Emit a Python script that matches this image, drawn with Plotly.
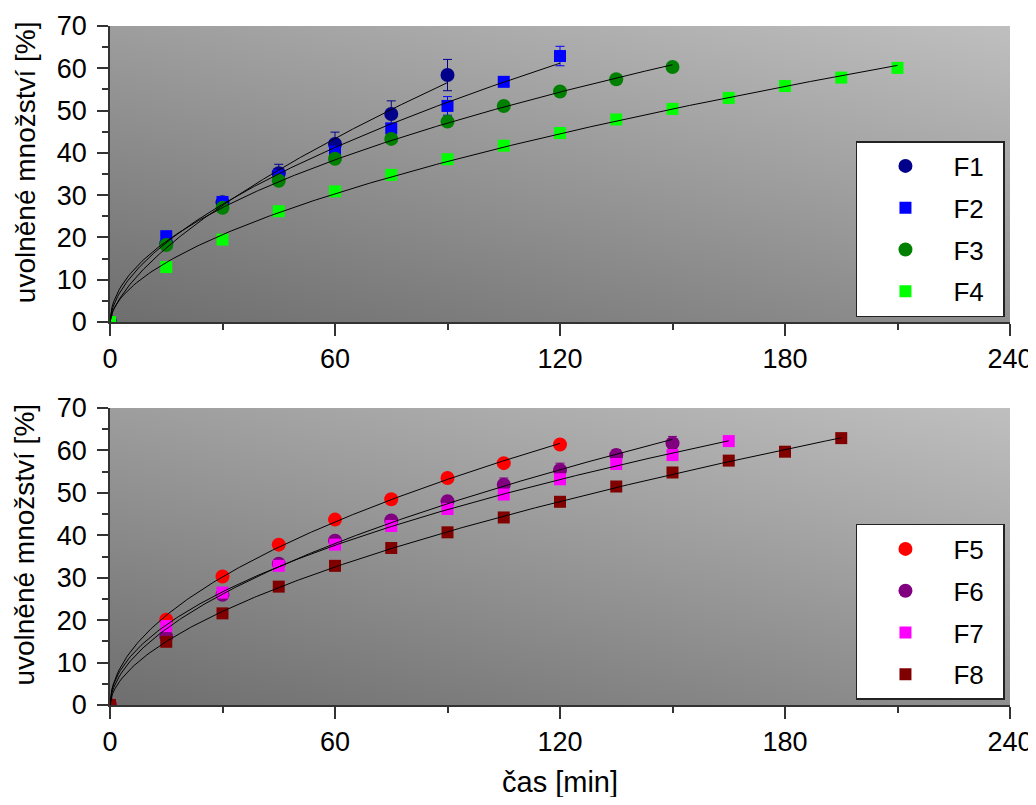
import base64
import numpy as np
import plotly.graph_objects as go

# ---------------- data ----------------
time_min = [0, 15, 30, 45, 60, 75, 90, 105, 120, 135, 150, 165, 180, 195, 210]

F1 = [0, 18.5, 28.3, 35.2, 42.1, 49.2, 58.4]
F1_err = [0, 0.6, 0.8, 2.1, 2.8, 3.1, 3.7]
F2 = [0, 20.3, 28.4, 34.6, 40.3, 45.8, 51.1, 56.8, 62.9]
F2_err = [0, 0.5, 0.5, 0.8, 1.0, 1.0, 2.2, 0.6, 2.3]
F3 = [0, 18.2, 27.0, 33.4, 38.6, 43.3, 47.4, 51.1, 54.5, 57.4, 60.3]
F3_err = [0, 0.4, 0.4, 0.5, 0.5, 0.5, 0.5, 0.5, 0.5, 0.5, 0.5]
F4 = [0, 13.0, 19.5, 26.2, 30.9, 34.8, 38.5, 41.7, 44.7, 47.9, 50.4, 53.0, 55.8, 57.8, 60.1]
F4_err = [0, 0.4, 0.4, 0.4, 0.4, 0.4, 0.4, 0.4, 0.4, 0.4, 0.4, 0.4, 0.4, 0.4, 0.4]

F5 = [0, 20.1, 30.3, 37.8, 43.7, 48.5, 53.5, 57.0, 61.4]
F5_err = [0, 0.4, 0.5, 0.5, 0.5, 0.5, 0.5, 0.5, 0.5]
F6 = [0, 16.1, 26.0, 33.3, 38.7, 43.5, 48.0, 51.9, 55.4, 58.9, 61.7]
F6_err = [0, 0.5, 0.6, 0.6, 0.7, 0.9, 1.2, 1.6, 1.6, 1.3, 1.6]
F7 = [0, 18.6, 26.5, 32.8, 37.8, 42.2, 46.2, 49.6, 53.2, 56.8, 58.9, 62.2]
F7_err = [0, 0.4, 0.4, 0.5, 0.5, 0.5, 0.5, 0.5, 0.5, 0.5, 0.5, 0.5]
F8 = [0, 14.9, 21.6, 27.9, 32.8, 37.0, 40.7, 44.2, 47.9, 51.5, 54.8, 57.6, 59.7, 62.9]
F8_err = [0, 0.4, 0.4, 0.4, 0.4, 0.4, 0.4, 0.4, 0.4, 0.4, 0.4, 0.4, 0.4, 0.4]

x_ticks = [0, 60, 120, 180, 240]
y_ticks = [0, 10, 20, 30, 40, 50, 60, 70]
y_title = "uvolněné množství [%]"
x_title = "čas [min]"

top_series = [
    ("F1", F1, F1_err, "#00008B", "circle"),
    ("F2", F2, F2_err, "#0000FF", "square"),
    ("F3", F3, F3_err, "#008000", "circle"),
    ("F4", F4, F4_err, "#00FF00", "square"),
]
bottom_series = [
    ("F5", F5, F5_err, "#FF0000", "circle"),
    ("F6", F6, F6_err, "#800080", "circle"),
    ("F7", F7, F7_err, "#FF00FF", "square"),
    ("F8", F8, F8_err, "#800000", "square"),
]

FONT = "Liberation Sans, Arial, sans-serif"
AX = "#333333"
PAD = "\u00a0\u00a0"  # right padding inside the legend box

fig = go.Figure()


def power_fit(t, y):
    """Least-squares fit of y = k * t**n (n scanned, k solved in closed form)."""
    t = np.asarray(t, float)
    y = np.asarray(y, float)
    best = None
    for n in np.linspace(0.2, 1.2, 2001):
        tn = t ** n
        k = (y * tn).sum() / (tn * tn).sum()
        sse = ((y - k * tn) ** 2).sum()
        if best is None or sse < best[0]:
            best = (sse, k, n)
    return best[1], best[2]


def add_group(series, xa, ya, legend):
    fits = []
    for name, vals, err, color, sym in series:
        t = time_min[:len(vals)]
        fig.add_trace(go.Scatter(
            x=t, y=vals, mode="markers", name=name + PAD, xaxis=xa, yaxis=ya,
            legend=legend, legendgroup=name,
            marker=dict(symbol=sym, color=color, size=14 if sym == "circle" else 12,
                        line=dict(width=0)),
            error_y=dict(type="data", array=err, color=color, thickness=1, width=4.5),
        ))
        k, n = power_fit(t, vals)
        tf = np.linspace(0, t[-1], 300)
        fits.append((tf, k * tf ** n))
    for tf, yf in fits:
        fig.add_trace(go.Scatter(x=tf, y=yf, mode="lines", xaxis=xa, yaxis=ya,
                                 line=dict(color="black", width=1), showlegend=False,
                                 hoverinfo="skip"))


add_group(top_series, "x", "y", "legend")
add_group(bottom_series, "x2", "y2", "legend2")

# gradient background
svg = ('<svg xmlns="http://www.w3.org/2000/svg" width="900" height="297" viewBox="0 0 900 297" '
       'preserveAspectRatio="none"><defs><linearGradient id="g" x1="0" y1="1" x2="0.82" y2="-0.15">'
       '<stop offset="0" stop-color="#6e6e6e"/><stop offset="1" stop-color="#c0c0c0"/>'
       '</linearGradient></defs><rect width="900" height="297" fill="url(#g)"/></svg>')
src = "data:image/svg+xml;base64," + base64.b64encode(svg.encode()).decode()
images = []
for xr, yr in (("x domain", "y domain"), ("x2 domain", "y2 domain")):
    images.append(dict(source=src, xref=xr, yref=yr, x=0, y=1, sizex=1, sizey=1,
                       xanchor="left", yanchor="top", sizing="stretch", layer="below"))

xcommon = dict(range=[0, 240], tickvals=x_ticks, ticks="outside", ticklen=12, tickwidth=1.5,
               tickcolor=AX, showline=True, linecolor=AX, linewidth=1.5, showgrid=False,
               zeroline=False, automargin=False, ticklabeloverflow="allow",
               tickfont=dict(size=27, color="black", family=FONT),
               minor=dict(dtick=30, tick0=0, ticks="outside", ticklen=6, tickwidth=1.5, tickcolor=AX,
                          showgrid=False))
ycommon = dict(range=[0, 70], tickvals=y_ticks, ticks="outside", ticklen=11, tickwidth=1.5,
               tickcolor=AX, showline=True, linecolor=AX, linewidth=1.5, showgrid=False,
               zeroline=False, automargin=False, ticklabeloverflow="allow",
               tickfont=dict(size=27, color="black", family=FONT),
               ticklabelstandoff=5,
               minor=dict(dtick=5, tick0=0, ticks="outside", ticklen=6, tickwidth=1.5, tickcolor=AX,
                          showgrid=False))

legcommon = dict(xanchor="right", yanchor="bottom", bgcolor="white", bordercolor="#222222",
                 borderwidth=1.5, font=dict(size=26, color="black", family=FONT),
                 tracegroupgap=5, itemwidth=86)

# the page body adds an 8 px margin; the figure is placed so the plot areas match the reference
fig.update_layout(
    width=1028, height=789,
    margin=dict(l=102, r=26, t=18, b=92, autoexpand=False),
    paper_bgcolor="white", plot_bgcolor="#959595",
    font=dict(family=FONT, color="black"),
    xaxis=dict(domain=[0, 1], anchor="y", **xcommon),
    yaxis=dict(domain=[0.564, 1], anchor="x", **ycommon),
    xaxis2=dict(domain=[0, 1], anchor="y2", **xcommon),
    yaxis2=dict(domain=[0, 0.4374], anchor="x2", **ycommon),
    legend=dict(x=0.9944, y=0.5714, **legcommon),
    legend2=dict(x=0.9944, y=0.0074, **legcommon),
    images=images,
    annotations=[
        dict(text=y_title, textangle=-90, xref="paper", x=0, xshift=-85, xanchor="center",
             yref="y domain", y=0.54, yanchor="middle", showarrow=False,
             font=dict(size=28, family=FONT, color="black")),
        dict(text=y_title, textangle=-90, xref="paper", x=0, xshift=-85, xanchor="center",
             yref="y2 domain", y=0.54, yanchor="middle", showarrow=False,
             font=dict(size=28, family=FONT, color="black")),
        dict(text=x_title, xref="paper", x=0.5, xanchor="center", yref="paper", y=0, yshift=-77,
             yanchor="middle", showarrow=False, font=dict(size=29, family=FONT, color="black")),
    ],
)

fig.write_html("out.html")
